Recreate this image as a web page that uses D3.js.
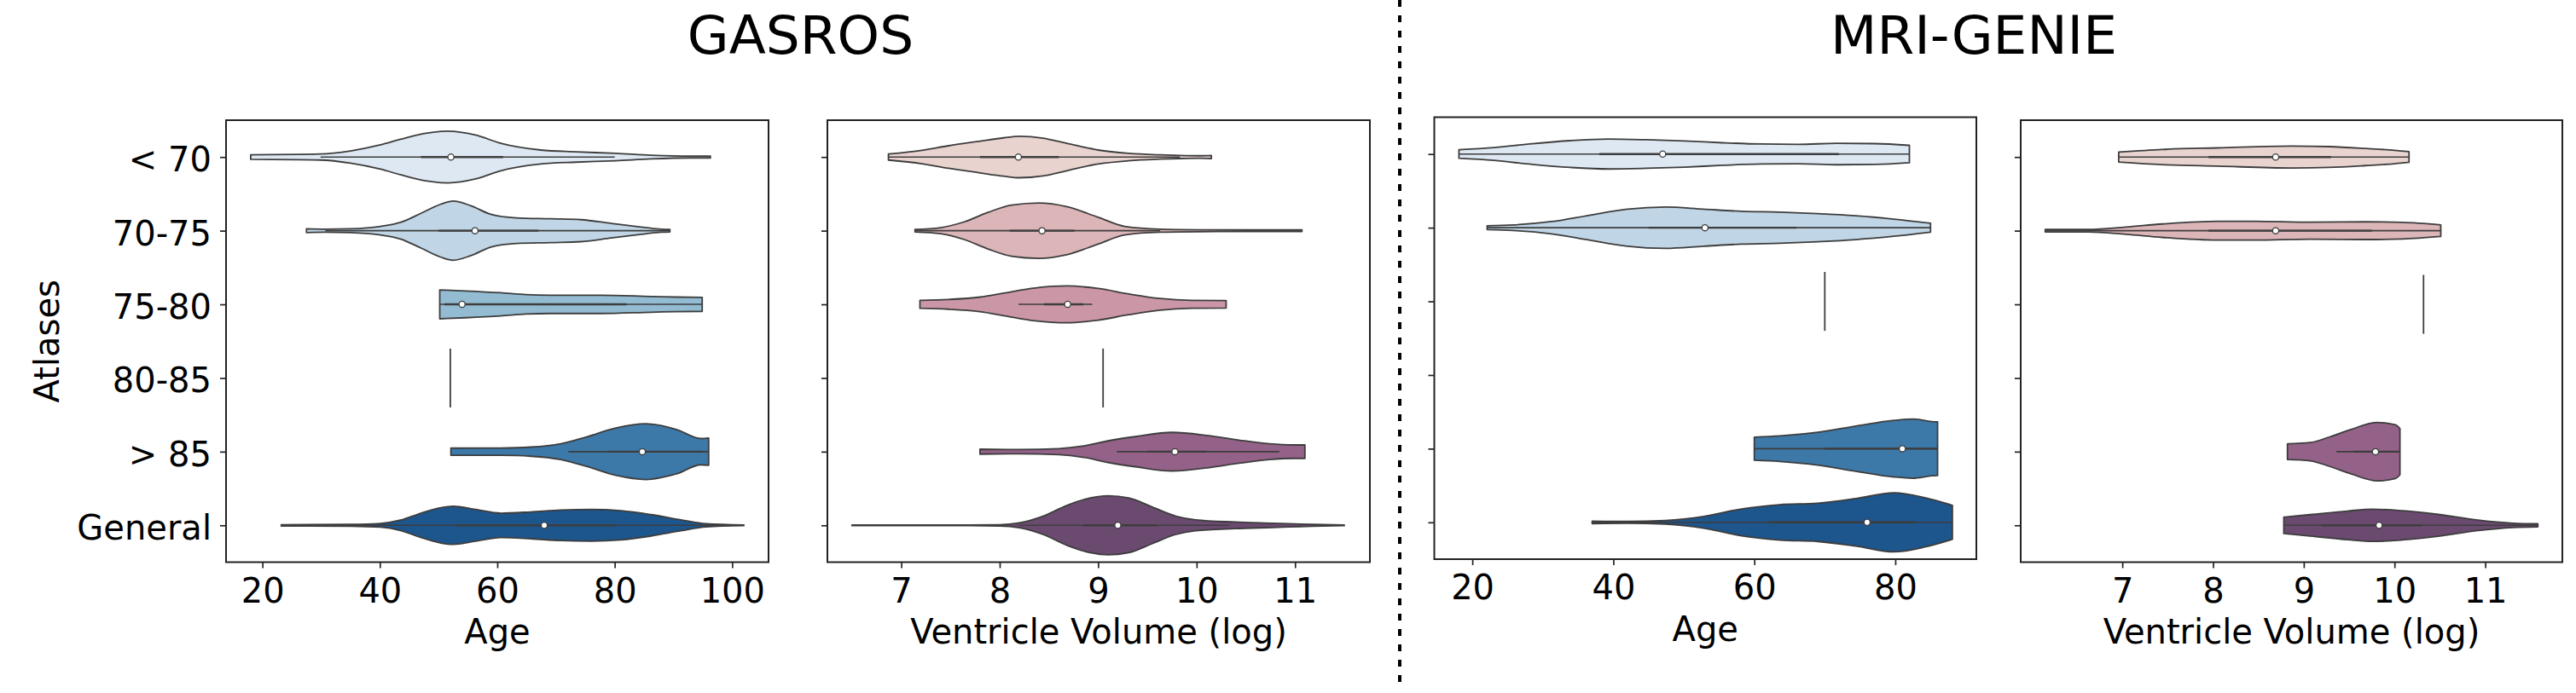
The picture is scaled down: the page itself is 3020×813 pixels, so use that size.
<!DOCTYPE html>
<html>
<head>
<meta charset="utf-8">
<script src="https://cdn.jsdelivr.net/npm/d3@7"></script>
<style>
  body { margin: 0; background: #fff; }
  svg { display: block; font-family: "DejaVu Sans", sans-serif; }
</style>
</head>
<body>
<script>
// Categories and tick labels
const categories = ["< 70", "70-75", "75-80", "80-85", "> 85", "General"];
const ageTicks = [20, 40, 60, 80, 100];
const volTicks = [7, 8, 9, 10, 11];

// Violin outlines: [value, half width in category steps]
// a single number = one observation (drawn as a bar), null = no data
const gasrosAge = [
  [[18.0,0.031],[29.9,0.041],[35,0.083],[40.1,0.165],[43.5,0.24],[47.8,0.322],[51.6,0.351],[56.3,0.298],[60.6,0.186],[67.4,0.095],[73.4,0.07],[80.2,0.05],[86.2,0.025],[93,0.012],[96.3,0.012]],
  [[27.5,0.025],[30.7,0.02],[35,0.025],[40.1,0.058],[43.5,0.112],[47,0.236],[50.4,0.36],[52.5,0.401],[55.5,0.339],[58.9,0.223],[63.2,0.174],[69.1,0.161],[74.3,0.149],[79.4,0.099],[84.5,0.05],[87.9,0.021],[89.4,0.017]],
  [[50.2,0.196],[54.6,0.182],[60.6,0.157],[64.9,0.132],[69.1,0.124],[77.7,0.124],[86.2,0.107],[90.5,0.099],[94.9,0.095]],
  52,
  [[52.1,0.048],[60.6,0.05],[65.7,0.062],[70.8,0.107],[75.1,0.198],[80.2,0.322],[85.3,0.378],[90.5,0.302],[94.7,0.178],[96,0.186]],
  [[23.2,0.008],[35,0.012],[40.1,0.025],[43.5,0.07],[47,0.165],[50.4,0.24],[52.5,0.258],[56.3,0.215],[60.6,0.165],[65.7,0.182],[70.8,0.207],[76,0.215],[81.1,0.198],[86.2,0.145],[91.3,0.074],[95.6,0.021],[102,0.004]]
];
const gasrosVol = [
  [[6.87,0.041],[7.21,0.091],[7.48,0.153],[7.8,0.215],[8.04,0.26],[8.2,0.281],[8.44,0.256],[8.68,0.186],[9.0,0.095],[9.31,0.05],[9.63,0.029],[9.83,0.021],[10.03,0.017],[10.15,0.021]],
  [[7.14,0.017],[7.4,0.041],[7.64,0.12],[7.88,0.248],[8.12,0.347],[8.4,0.376],[8.68,0.327],[9.0,0.182],[9.27,0.058],[9.63,0.021],[10.19,0.012],[10.78,0.01],[11.07,0.01]],
  [[7.19,0.054],[7.48,0.066],[7.8,0.099],[8.04,0.153],[8.36,0.223],[8.68,0.25],[9.0,0.215],[9.31,0.141],[9.63,0.079],[9.95,0.054],[10.3,0.05]],
  9.05,
  [[7.8,0.033],[8.2,0.029],[8.6,0.041],[8.84,0.074],[9.11,0.149],[9.39,0.207],[9.75,0.262],[10.11,0.219],[10.43,0.157],[10.74,0.107],[10.98,0.091],[11.1,0.091]],
  [[6.5,0.004],[7.4,0.004],[8.0,0.008],[8.2,0.033],[8.44,0.124],[8.68,0.269],[8.92,0.372],[9.1,0.401],[9.31,0.372],[9.55,0.248],[9.79,0.124],[9.99,0.074],[10.39,0.045],[10.78,0.029],[11.18,0.012],[11.5,0.004]]
];
const genieAge = [
  [[18.1,0.058],[23.1,0.087],[28.5,0.141],[33.9,0.182],[39.3,0.203],[44.7,0.194],[50.1,0.178],[55.5,0.153],[60.9,0.136],[66.3,0.132],[71.7,0.145],[77.1,0.141],[82,0.118]],
  [[22.1,0.025],[25.8,0.037],[31.2,0.083],[36.6,0.169],[42,0.252],[47.4,0.281],[52.8,0.252],[58.2,0.223],[63.6,0.211],[69,0.19],[74.4,0.161],[79.8,0.116],[85,0.06]],
  70,
  null,
  [[60,0.157],[63.6,0.174],[69,0.223],[74.4,0.306],[79.8,0.384],[82.5,0.401],[85.2,0.368],[86,0.364]],
  [[37,0.017],[42,0.012],[47.4,0.025],[52.8,0.079],[58.2,0.182],[63.6,0.24],[69,0.26],[74.4,0.322],[79.8,0.401],[84.2,0.335],[88.1,0.231]]
];
const genieVol = [
  [[6.96,0.068],[7.44,0.103],[8.05,0.124],[8.87,0.149],[9.28,0.141],[9.68,0.116],[10.0,0.091],[10.16,0.072]],
  [[6.15,0.017],[6.63,0.017],[7.04,0.05],[7.44,0.091],[8.05,0.128],[8.46,0.128],[9.07,0.116],[9.68,0.12],[10.09,0.112],[10.51,0.079]],
  10.32,
  null,
  [[8.82,0.107],[9.07,0.124],[9.28,0.198],[9.52,0.302],[9.81,0.397],[10.01,0.364],[10.06,0.314]],
  [[8.78,0.112],[9.07,0.145],[9.48,0.194],[9.76,0.219],[10.09,0.198],[10.5,0.145],[10.9,0.074],[11.31,0.029],[11.58,0.021]]
];

// inner boxes: [whisker low, q1, median, q3, whisker high]
const gasrosAgeBox = [[29.9,47,52.1,61,80.0],[30.7,50,56.2,67,89.4],[50.2,51,54,82,94.9],null,[72.1,79,84.7,95,96],[23.2,53,68,80,102]];
const gasrosVolBox = [[6.87,7.8,8.19,8.6,9.83],[7.14,8.1,8.43,8.76,9.63],[8.19,8.45,8.69,8.85,8.94],null,[9.19,9.5,9.78,10.1,10.84],[8.2,8.85,9.2,9.6,10.33]];
const genieAgeBox = [[18.1,38,47,72,82],[22.1,45,53,66,85],null,null,[60,70,81,86,86],[37,62,76,83,88.1]];
const genieVolBox = [[6.96,7.95,8.69,9.3,10.16],[6.15,7.95,8.69,9.75,10.51],null,null,[9.36,9.55,9.79,10.06,10.06],[8.78,9.2,9.83,10.3,11.58]];

const blues = ["#dde8f2", "#c0d5e5", "#93bbd2", "#6a9bc0", "#3d79a8", "#1d558d"];
const purples = ["#e8d3cf", "#dbb5b8", "#cb97a6", "#b07b98", "#946289", "#6b4a70"];

const width = 3020, height = 813;
const gray = "#3d3d3d";

const svg = d3.select("body").append("svg")
  .attr("width", width)
  .attr("height", height);

const panels = [
  { left: 265, right: 901, top: 141, bottom: 659.5, domain: [13.8, 106.2], ticks: ageTicks,
    violins: gasrosAge, boxes: gasrosAgeBox, colors: blues, label: "Age", yLabels: true },
  { left: 970, right: 1606, top: 141, bottom: 659.5, domain: [6.25, 11.76], ticks: volTicks,
    violins: gasrosVol, boxes: gasrosVolBox, colors: purples, label: "Ventricle Volume (log)" },
  { left: 1681.5, right: 2317, top: 137.5, bottom: 656, domain: [14.6, 91.5], ticks: ageTicks.slice(0, 4),
    violins: genieAge, boxes: genieAgeBox, colors: blues, label: "Age" },
  { left: 2369, right: 3004, top: 141, bottom: 659.5, domain: [5.88, 11.85], ticks: volTicks,
    violins: genieVol, boxes: genieVolBox, colors: purples, label: "Ventricle Volume (log)" }
];

function drawPanel(p) {
  const x = d3.scaleLinear().domain(p.domain).range([p.left, p.right]);
  const y = d3.scalePoint().domain(categories).range([p.top, p.bottom]).padding(0.5);
  const step = y.step();
  const g = svg.append("g");

  p.violins.forEach((v, i) => {
    if (v == null) return;
    const cy = y(categories[i]);
    if (typeof v === "number") {
      // single observation
      g.append("line")
        .attr("x1", x(v)).attr("x2", x(v))
        .attr("y1", cy - 0.4 * step).attr("y2", cy + 0.4 * step)
        .attr("stroke", gray).attr("stroke-width", 1.8);
      return;
    }
    const area = d3.area()
      .curve(d3.curveMonotoneX)
      .x(d => x(d[0]))
      .y0(d => cy - d[1] * step)
      .y1(d => cy + d[1] * step);
    g.append("path")
      .attr("d", area(v))
      .attr("fill", p.colors[i])
      .attr("stroke", gray)
      .attr("stroke-width", 1.8)
      .attr("stroke-linejoin", "round");

    const b = p.boxes[i];
    if (!b) return;
    g.append("line")
      .attr("x1", x(b[0])).attr("x2", x(b[4]))
      .attr("y1", cy).attr("y2", cy)
      .attr("stroke", gray).attr("stroke-width", 1.6);
    g.append("line")
      .attr("x1", x(b[1])).attr("x2", x(b[3]))
      .attr("y1", cy).attr("y2", cy)
      .attr("stroke", gray).attr("stroke-width", 2.4);
    g.append("circle")
      .attr("cx", x(b[2])).attr("cy", cy).attr("r", 3.6)
      .attr("fill", "white").attr("stroke", gray).attr("stroke-width", 1.3);
  });

  // x axis
  const xg = svg.append("g")
    .attr("transform", `translate(0,${p.bottom})`)
    .call(d3.axisBottom(x).tickValues(p.ticks).tickFormat(d3.format("d"))
      .tickSize(7).tickSizeOuter(0).tickPadding(12));
  xg.select(".domain").remove();
  xg.selectAll(".tick line").attr("stroke", "#222").attr("stroke-width", 1.7);
  xg.selectAll(".tick text").attr("font-size", 40).attr("fill", "#000")
    .attr("font-family", "DejaVu Sans, sans-serif");

  // y axis
  const yAxis = d3.axisLeft(y).tickSize(7).tickSizeOuter(0).tickPadding(10);
  if (!p.yLabels) yAxis.tickFormat("");
  const yg = svg.append("g")
    .attr("transform", `translate(${p.left},0)`)
    .call(yAxis);
  yg.select(".domain").remove();
  yg.selectAll(".tick line").attr("stroke", "#222").attr("stroke-width", 1.7);
  yg.selectAll(".tick text").attr("font-size", 40).attr("fill", "#000").attr("dy", "0.41em")
    .attr("font-family", "DejaVu Sans, sans-serif");

  // frame
  svg.append("rect")
    .attr("x", p.left).attr("y", p.top)
    .attr("width", p.right - p.left).attr("height", p.bottom - p.top)
    .attr("fill", "none").attr("stroke", "#222").attr("stroke-width", 2);

  svg.append("text")
    .attr("x", (p.left + p.right) / 2)
    .attr("y", p.bottom + 95.5)
    .attr("text-anchor", "middle")
    .attr("font-size", 40)
    .text(p.label);

  if (p.yLabels) {
    svg.append("text")
      .attr("transform", `translate(69,${(p.top + p.bottom) / 2}) rotate(-90)`)
      .attr("text-anchor", "middle")
      .attr("font-size", 40)
      .text("Atlases");
  }
}

panels.forEach(drawPanel);

// group titles
svg.append("text")
  .attr("x", 938.5).attr("y", 63)
  .attr("text-anchor", "middle").attr("font-size", 63)
  .text("GASROS");
svg.append("text")
  .attr("x", 2314).attr("y", 63)
  .attr("text-anchor", "middle").attr("font-size", 63)
  .text("MRI-GENIE");

// dotted separator
svg.append("line")
  .attr("x1", 1641).attr("x2", 1641)
  .attr("y1", 0).attr("y2", 806)
  .attr("stroke", "#000").attr("stroke-width", 4)
  .attr("stroke-dasharray", "8,10");
</script>
</body>
</html>
